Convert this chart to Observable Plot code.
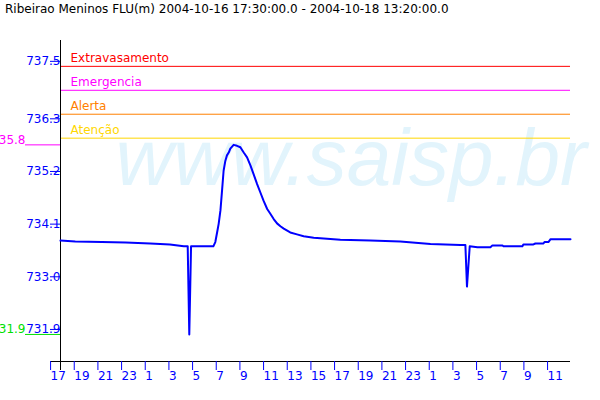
<!DOCTYPE html>
<html>
<head>
<meta charset="utf-8">
<script src="https://cdn.jsdelivr.net/npm/d3@7"></script>
<script src="https://cdn.jsdelivr.net/npm/@observablehq/plot@0.6"></script>
<style>
  html, body { margin: 0; padding: 0; background: #fff; }
  #wrap { position: relative; width: 600px; height: 400px; overflow: hidden; }
  #title { position: absolute; left: 5px; top: 2px; font: 12px "DejaVu Sans"; color: #000; white-space: nowrap; line-height: 14px; }
</style>
</head>
<body>
<div id="wrap"><div id="title"></div><div id="chart"></div></div>
<script>
// ---- data ----
const title = "Ribeirao Meninos FLU(m) 2004-10-16 17:30:00.0 - 2004-10-18 13:20:00.0";
const watermark = "www.saisp.br";

const times = [
  "2004-10-16T17:30","2004-10-16T18:45","2004-10-16T21:00","2004-10-16T23:00",
  "2004-10-17T01:05","2004-10-17T02:45","2004-10-17T03:55","2004-10-17T04:15",
  "2004-10-17T04:23","2004-10-17T04:32","2004-10-17T06:25","2004-10-17T06:35",
  "2004-10-17T06:44","2004-10-17T06:52","2004-10-17T07:01","2004-10-17T07:09",
  "2004-10-17T07:17","2004-10-17T07:26","2004-10-17T07:34","2004-10-17T07:43",
  "2004-10-17T07:51","2004-10-17T08:08","2004-10-17T08:25","2004-10-17T08:42",
  "2004-10-17T08:59","2004-10-17T09:16","2004-10-17T09:33","2004-10-17T09:49",
  "2004-10-17T10:07","2004-10-17T10:23","2004-10-17T10:40","2004-10-17T10:58",
  "2004-10-17T11:14","2004-10-17T11:31","2004-10-17T11:48","2004-10-17T12:05",
  "2004-10-17T12:22","2004-10-17T12:55","2004-10-17T13:29","2004-10-17T14:03",
  "2004-10-17T14:54","2004-10-17T15:28","2004-10-17T17:09","2004-10-17T19:41",
  "2004-10-17T22:13","2004-10-18T00:46","2004-10-18T03:18","2004-10-18T03:43",
  "2004-10-18T03:51","2004-10-18T04:05","2004-10-18T04:44","2004-10-18T05:50",
  "2004-10-18T06:00","2004-10-18T06:51","2004-10-18T06:56","2004-10-18T08:32",
  "2004-10-18T08:37","2004-10-18T09:28","2004-10-18T09:38","2004-10-18T10:19",
  "2004-10-18T10:24","2004-10-18T10:44","2004-10-18T10:55","2004-10-18T12:36"
];
const levels = [
  733.86, 733.84, 733.83, 733.82,
  733.80, 733.78, 733.74, 733.74,
  731.90, 733.74, 733.74, 733.83,
  734.03, 734.21, 734.49, 734.90,
  735.32, 735.53, 735.64, 735.70,
  735.78, 735.86, 735.84, 735.81,
  735.70, 735.60, 735.43, 735.25,
  735.04, 734.87, 734.69, 734.52,
  734.42, 734.31, 734.22, 734.16,
  734.11, 734.03, 733.99, 733.95,
  733.92, 733.91, 733.88, 733.86,
  733.84, 733.79, 733.77, 733.77,
  732.90, 733.74, 733.72, 733.72,
  733.76, 733.76, 733.74, 733.74,
  733.78, 733.78, 733.80, 733.80,
  733.83, 733.83, 733.89, 733.89
];

const thresholdNames = ["Extravasamento", "Emergencia", "Alerta", "Atenção"];
const thresholdValues = [737.5, 737.0, 736.5, 736.0];

const extremeValues = [735.86, 731.9];
const extremeLabels = ["735.8", "731.9"];

const yTicks = [737.5, 736.3, 735.2, 734.1, 733.0, 731.9];
const yTickLabels = ["737.5", "736.3", "735.2", "734.1", "733.0", "731.9"];

const xTickTimes = [
  "2004-10-16T17:00","2004-10-16T19:00","2004-10-16T21:00","2004-10-16T23:00",
  "2004-10-17T01:00","2004-10-17T03:00","2004-10-17T05:00","2004-10-17T07:00",
  "2004-10-17T09:00","2004-10-17T11:00","2004-10-17T13:00","2004-10-17T15:00",
  "2004-10-17T17:00","2004-10-17T19:00","2004-10-17T21:00","2004-10-17T23:00",
  "2004-10-18T01:00","2004-10-18T03:00","2004-10-18T05:00","2004-10-18T07:00",
  "2004-10-18T09:00","2004-10-18T11:00"
];
const xTickLabels = ["17","19","21","23","1","3","5","7","9","11","13","15","17","19","21","23","1","3","5","7","9","11"];

const xDomain = ["2004-10-16T17:30", "2004-10-18T12:36"];
const yDomain = [731.335, 738.04];

// ---- styles ----
const thresholdColors = ["#ff0000", "#ff00ff", "#ff8000", "#ffd700"];
const extremeColors = ["#ff00ff", "#00e000"];
const FONT = "DejaVu Sans";

// ---- build ----
const utc = s => new Date(s + ":00Z");
const series = times.map((t, i) => ({time: utc(t), level: levels[i]}));
const xTicks = xTickTimes.map(utc);
const xLabelOf = new Map(xTicks.map((d, i) => [+d, xTickLabels[i]]));
const yLabelOf = new Map(yTicks.map((d, i) => [d, yTickLabels[i]]));
const x0 = utc(xDomain[0]);

document.getElementById("title").textContent = title;

const chart = Plot.plot({
  width: 600,
  height: 400,
  marginLeft: 60,
  marginRight: 30,
  marginTop: 40,
  marginBottom: 39,
  style: {fontFamily: FONT, fontSize: "12px", background: "transparent"},
  x: {type: "utc", domain: xDomain.map(utc)},
  y: {domain: yDomain},
  marks: [
    Plot.text([watermark], {
      frameAnchor: "left", dx: 55, dy: -16, textAnchor: "start", lineAnchor: "bottom",
      fontSize: 80, fontStyle: "italic", fontFamily: "Liberation Sans", fill: "#e2f4fc"
    }),
    ...thresholdNames.map((n, i) => Plot.ruleY([thresholdValues[i]], {stroke: thresholdColors[i], strokeWidth: 1})),
    ...thresholdNames.map((n, i) => Plot.text([n], {
      x: () => x0, y: () => thresholdValues[i], text: d => d,
      dx: 10, dy: -4, textAnchor: "start", lineAnchor: "bottom",
      fill: thresholdColors[i], fontSize: 12, fontFamily: FONT
    })),
    // axis lines
    Plot.ruleY([yDomain[0]], {stroke: "black", insetLeft: -10}),
    Plot.ruleX([x0], {stroke: "black", insetBottom: -9}),
    Plot.axisY(yTicks, {
      anchor: "left", tickSize: 10, tickPadding: -10, dy: -5, color: "blue",
      tickFormat: d => yLabelOf.get(d), label: null, fontSize: 12, fontFamily: FONT
    }),
    Plot.axisX(xTicks, {
      anchor: "bottom", tickSize: 9, tickPadding: 1, color: "blue", textAnchor: "start", dx: -4,
      tickFormat: d => xLabelOf.get(+d), label: null, fontSize: 12, fontFamily: FONT
    }),
    // extremes markers
    ...extremeValues.map((v, i) => Plot.ruleY([v], {x1: () => x0, x2: () => x0, insetLeft: -35, stroke: extremeColors[i]})),
    ...extremeValues.map((v, i) => Plot.text([extremeLabels[i]], {
      x: () => x0, y: () => v, text: d => d, dx: -35, dy: -5, textAnchor: "end",
      fill: extremeColors[i], fontSize: 12, fontFamily: FONT
    })),
    Plot.line(series, {x: "time", y: "level", stroke: "#0000ff", strokeWidth: 2})
  ]
});
document.getElementById("chart").appendChild(chart);
</script>
</body>
</html>
